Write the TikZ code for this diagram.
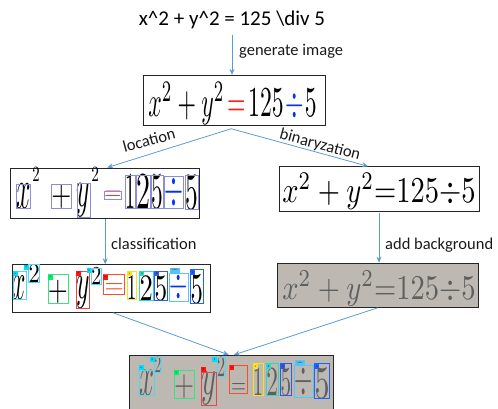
\documentclass[tikz,border=0pt]{standalone}
\usepackage[no-math]{fontspec}
\usepackage{graphicx}
\usetikzlibrary{arrows.meta}
\newfontfamily\carl{Carlito}
\definecolor{arrowc}{RGB}{91,155,213}
\definecolor{lav}{RGB}{140,140,220}
\definecolor{eqred}{RGB}{250,30,30}
\definecolor{eqblue}{RGB}{0,50,250}
\definecolor{cyb}{RGB}{80,215,245}
\definecolor{cyt}{RGB}{0,220,255}
\definecolor{grb}{RGB}{60,225,130}
\definecolor{grt}{RGB}{0,240,110}
\definecolor{rdb}{RGB}{235,70,70}
\definecolor{rdt}{RGB}{250,20,20}
\definecolor{orb}{RGB}{245,80,40}
\definecolor{ylb}{RGB}{250,225,30}
\definecolor{tlb}{RGB}{40,220,200}
\definecolor{blb}{RGB}{50,90,225}
\definecolor{lbb}{RGB}{90,195,245}
\definecolor{blb2}{RGB}{30,100,250}
\definecolor{photo}{RGB}{189,185,178}
\definecolor{phtext}{RGB}{95,95,95}
% glyph resized into a rectangle: name, x1, y1, x2, y2, colour, content
\newcommand\gl[7]{%
  \pgfmathsetlengthmacro\glw{(#4)-(#2)}%
  \pgfmathsetlengthmacro\glh{(#5)-(#3)}%
  \node[inner sep=0pt, text=#6] (#1) at ({((#2)+(#4))/2},{((#3)+(#5))/2}) {\resizebox*{\glw}{\glh}{$#7$}};%
}
% glyph filling a coloured box
\newcommand\glb[8]{%
  \gl{#1}{#2}{#3}{#4}{#5}{#6}{#8}%
  \draw[#7, line width=0.6pt] (#2,#3) rectangle (#4,#5);%
}
% coloured box with the glyph below a tag strip
\newcommand\glt[8]{%
  \gl{#1}{#2}{#3+5}{#4}{#5}{#6}{#8}%
  \draw[#7, line width=0.6pt] (#2,#3) rectangle (#4,#5);%
}
% small tag, top-left corner given
\newcommand\tg[5]{%
  \fill[#4] (#2,#3) rectangle ++(4.5,5);%
  \node[inner sep=0pt, font=\fontsize{2.5}{3}\selectfont] (#1) at ({#2+2.25},{#3+2.5}) {#5};%
}
\newcommand\tgw[5]{%
  \fill[#4] (#2,#3) rectangle ++(10,5);%
  \node[inner sep=0pt, font=\fontsize{2.5}{3}\selectfont] (#1) at ({#2+5},{#3+2.5}) {#5};%
}
\begin{document}
\begin{tikzpicture}[x=1pt,y=-1pt,
  frame/.style={draw=black!85, line width=0.9pt, inner sep=0pt},
  arr/.style={draw=arrowc, line width=0.8pt, -{Stealth[length=6pt,width=5pt]}},
  lbl/.style={font=\carl\fontsize{16.5}{19}\selectfont, inner sep=0pt, text=black!90},
]
\useasboundingbox (0,0) rectangle (498,408);

% source text
\node[font=\carl\fontsize{21}{25}\selectfont, anchor=base, inner sep=0pt] (src) at (232,25)
  {x\textasciicircum 2 + y\textasciicircum 2 = 125 \textbackslash div 5};

% frames
\node[frame, minimum width=181.7pt, minimum height=50pt] (b1) at (234.2,100.3) {};
\node[frame, minimum width=189pt, minimum height=50pt] (b2l) at (105.2,193) {};
\node[frame, minimum width=200pt, minimum height=45pt] (b2r) at (379,189.2) {};
\node[frame, minimum width=198pt, minimum height=47.6pt] (b3l) at (111,288.5) {};
\node[frame, fill=photo, minimum width=200.7pt, minimum height=44.3pt] (b3r) at (377.7,285.2) {};
\node[frame, fill=photo, minimum width=203.3pt, minimum height=56.7pt] (b4) at (231.3,383.7) {};

% whole equations
\node[inner sep=0pt] (e1) at (232.5,103.5)
  {\resizebox*{168.4pt}{43pt}{$x^2+y^2\mkern2mu{\color{eqred}=}\mkern2mu125\mkern1mu{\color{eqblue}\div}\mkern1mu5$}};
\node[inner sep=0pt] (e2r) at (379,191.7)
  {\resizebox*{193.4pt}{36.7pt}{$x^2+y^2{=}125{\div}5$}};
\node[inner sep=0pt, text=phtext] (e3r) at (379,288.8)
  {\resizebox*{193.4pt}{35pt}{$x^2+y^2{=}125{\div}5$}};

% location panel
\glb{l1}{16.3}{184}{30.7}{208.7}{black}{lav}{x}
\gl{l2}{32.3}{167}{39.7}{181}{black}{2}
\glb{l3}{51.3}{184.7}{71.3}{208}{black}{lav}{+}
\glb{l4}{77}{183.7}{90.3}{217}{black}{lav}{y}
\gl{l5}{91.3}{167}{99}{181}{black}{2}
\glb{l6}{104}{191.3}{121.3}{199.7}{eqred}{lav}{=}
\glb{l7}{125.3}{175.3}{135.3}{208.7}{black}{lav}{1}
\glb{l8}{136.3}{175.3}{150.3}{208.7}{black}{lav}{2}
\glb{l9}{151.3}{175.3}{163}{208.7}{black}{lav}{5}
\glb{l10}{164.7}{176}{183.7}{208.7}{eqblue}{lav}{\div}
\glb{l11}{185.3}{175}{198}{209}{black}{lav}{5}

% classification panel
\glt{m1}{13}{271.3}{26.3}{299.7}{black}{cyb}{x}\tg{mt1}{13}{271.3}{cyt}{x}
\glb{m2}{28.5}{264.5}{39.7}{282}{black}{cyb}{2}\tg{mt2}{24}{264.5}{cyt}{2}
\glt{m3}{48}{274.7}{68}{303}{black}{grb}{+}\tg{mt3}{48}{274.7}{grt}{+}
\glt{m4}{76.3}{271}{89.7}{308}{black}{rdb}{y}\tg{mt4}{76.3}{271}{rdt}{y}
\glb{m5}{91.3}{268}{101.3}{284.7}{black}{cyb}{2}\tg{mt5}{86.8}{268}{cyt}{2}
\gl{m6}{104.7}{283}{124}{293}{orb}{=}
\draw[orb, line width=0.6pt] (103,274.7) rectangle (124.7,294.7);\tg{mt6}{103}{274.7}{rdt}{=}
\glt{m7}{127}{271.3}{136.3}{299.7}{black}{ylb}{1}\tg{mt7}{127}{271.3}{ylb}{1}
\glt{m8}{139.7}{271}{153}{300}{black}{tlb}{2}\tg{mt8}{139.7}{271}{tlb}{2}
\glt{m9}{154.7}{271}{167.3}{300}{black}{blb}{5}\tg{mt9}{154.7}{271}{blb}{5}
\glb{m10}{169.7}{273}{188}{301}{eqblue}{lbb}{\div}\tgw{mt10}{169.7}{267.8}{lbb}{\textbackslash div}
\glt{m11}{190.7}{269.7}{203}{303}{black}{blb2}{5}\tg{mt11}{190.7}{269.7}{blb2}{5}

% result panel
\glb{n1}{139}{370.3}{154}{395.3}{phtext}{cyb}{x}\tg{nt1}{139}{365.1}{cyt}{x}
\glb{n2}{154.7}{357}{161.3}{372}{phtext}{cyb}{2}\tg{nt2}{150}{357}{cyt}{2}
\glt{n3}{174}{370}{194}{398.7}{phtext}{grb}{+}\tg{nt3}{174}{370}{grt}{+}
\glb{n4}{201.3}{372}{216.3}{405.3}{phtext}{rdb}{y}\tg{nt4}{201.3}{366.8}{rdt}{y}
\glb{n5}{217}{357}{225}{376}{phtext}{cyb}{2}\tg{nt5}{212.3}{357}{cyt}{2}
\gl{n6}{231}{383.7}{246}{393.7}{phtext}{=}
\draw[orb, line width=0.6pt] (229.7,365.3) rectangle (247.3,393.7);\tg{nt6}{229.7}{365.3}{rdt}{=}
\glt{n7}{253}{363.7}{263}{395.3}{phtext}{ylb}{1}\tg{nt7}{253}{363.7}{ylb}{1}
\glt{n8}{266.3}{363.7}{278}{395.3}{phtext}{tlb}{2}\tg{nt8}{266.3}{363.7}{tlb}{2}
\glt{n9}{280.7}{363.7}{291.3}{395.3}{phtext}{blb}{5}\tg{nt9}{280.7}{363.7}{blb}{5}
\glb{n10}{294.7}{365.3}{313}{397}{phtext}{lbb}{\div}\tgw{nt10}{294.7}{360.1}{lbb}{\textbackslash div}
\glt{n11}{314.7}{363.7}{329.7}{398.7}{phtext}{blb2}{5}\tg{nt11}{314.7}{363.7}{blb2}{5}

% connectors
\draw[arr] ([yshift=-6pt]src.south) -- (src.south |- b1.north);
\draw[arr] ([xshift=-3pt,yshift=-3pt]b1.south) -- ([xshift=2pt]b2l.north);
\draw[arr] ([xshift=-3pt,yshift=-3pt]b1.south) -- ([xshift=-11pt]b2r.north);
\draw[arr] ([yshift=-1pt]b2l.south) -- (b2l.south |- b3l.north);
\draw[arr] ([yshift=-1pt]b2r.south) -- (b2r.south |- b3r.north);
\draw[arr] ([xshift=2pt]b3l.south) -- ([xshift=-2.5pt]b4.north);
\draw[arr] (b3r.south) -- ([xshift=2.5pt]b4.north);

% labels
\node[lbl, anchor=base west] (lgen) at (239,55) {generate image};
\node[lbl, rotate=15] (lloc) at (149,140) {location};
\node[lbl, rotate=-15] (lbin) at (320,145) {binaryzation};
\node[lbl, anchor=base west] (lcls) at (111,249) {classification};
\node[lbl, anchor=base west] (ladd) at (385,249) {add background};
\end{tikzpicture}
\end{document}
